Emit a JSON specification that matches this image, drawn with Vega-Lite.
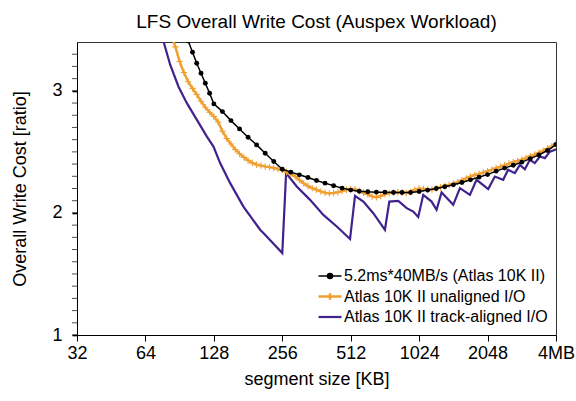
{
  "$schema": "https://vega.github.io/schema/vega-lite/v6.json",
  "width": 479,
  "height": 293,
  "autosize": {"type": "none"},
  "padding": {"left": 77, "top": 42, "right": 20, "bottom": 66},
  "title": {"text": "LFS Overall Write Cost (Auspex Workload)", "fontSize": 19, "font": "Liberation Sans", "fontWeight": "normal", "offset": 10, "anchor": "middle", "color": "#000000"},
  "config": {
    "view": {"stroke": "#333333", "strokeWidth": 1},
    "font": "Liberation Sans",
    "axis": {"grid": false, "domainColor": "#000000", "tickColor": "#000000", "labelColor": "#000000", "titleColor": "#000000", "labelFont": "Liberation Sans", "titleFont": "Liberation Sans", "titleFontWeight": "normal"}
  },
  "datasets": {
    "pts": [
      {"series": "5.2ms*40MB/s (Atlas 10K II)", "size": 94.5, "cost": 3.50},
      {"series": "5.2ms*40MB/s (Atlas 10K II)", "size": 98.7, "cost": 3.41},
      {"series": "5.2ms*40MB/s (Atlas 10K II)", "size": 103.1, "cost": 3.316},
      {"series": "5.2ms*40MB/s (Atlas 10K II)", "size": 107.6, "cost": 3.226},
      {"series": "5.2ms*40MB/s (Atlas 10K II)", "size": 112.4, "cost": 3.144},
      {"series": "5.2ms*40MB/s (Atlas 10K II)", "size": 117.4, "cost": 3.062},
      {"series": "5.2ms*40MB/s (Atlas 10K II)", "size": 122.6, "cost": 2.980},
      {"series": "5.2ms*40MB/s (Atlas 10K II)", "size": 128, "cost": 2.893},
      {"series": "5.2ms*40MB/s (Atlas 10K II)", "size": 139.6, "cost": 2.830},
      {"series": "5.2ms*40MB/s (Atlas 10K II)", "size": 152.2, "cost": 2.756},
      {"series": "5.2ms*40MB/s (Atlas 10K II)", "size": 166.0, "cost": 2.688},
      {"series": "5.2ms*40MB/s (Atlas 10K II)", "size": 181.0, "cost": 2.620},
      {"series": "5.2ms*40MB/s (Atlas 10K II)", "size": 197.4, "cost": 2.557},
      {"series": "5.2ms*40MB/s (Atlas 10K II)", "size": 215.3, "cost": 2.489},
      {"series": "5.2ms*40MB/s (Atlas 10K II)", "size": 234.8, "cost": 2.421},
      {"series": "5.2ms*40MB/s (Atlas 10K II)", "size": 256, "cost": 2.358},
      {"series": "5.2ms*40MB/s (Atlas 10K II)", "size": 279.2, "cost": 2.334},
      {"series": "5.2ms*40MB/s (Atlas 10K II)", "size": 304.4, "cost": 2.312},
      {"series": "5.2ms*40MB/s (Atlas 10K II)", "size": 332.0, "cost": 2.290},
      {"series": "5.2ms*40MB/s (Atlas 10K II)", "size": 362.0, "cost": 2.265},
      {"series": "5.2ms*40MB/s (Atlas 10K II)", "size": 394.8, "cost": 2.244},
      {"series": "5.2ms*40MB/s (Atlas 10K II)", "size": 430.5, "cost": 2.222},
      {"series": "5.2ms*40MB/s (Atlas 10K II)", "size": 469.5, "cost": 2.203},
      {"series": "5.2ms*40MB/s (Atlas 10K II)", "size": 512, "cost": 2.187},
      {"series": "5.2ms*40MB/s (Atlas 10K II)", "size": 558.3, "cost": 2.178},
      {"series": "5.2ms*40MB/s (Atlas 10K II)", "size": 608.9, "cost": 2.173},
      {"series": "5.2ms*40MB/s (Atlas 10K II)", "size": 664.0, "cost": 2.170},
      {"series": "5.2ms*40MB/s (Atlas 10K II)", "size": 724.1, "cost": 2.170},
      {"series": "5.2ms*40MB/s (Atlas 10K II)", "size": 789.7, "cost": 2.167},
      {"series": "5.2ms*40MB/s (Atlas 10K II)", "size": 861.1, "cost": 2.167},
      {"series": "5.2ms*40MB/s (Atlas 10K II)", "size": 939.1, "cost": 2.167},
      {"series": "5.2ms*40MB/s (Atlas 10K II)", "size": 1024, "cost": 2.175},
      {"series": "5.2ms*40MB/s (Atlas 10K II)", "size": 1116.7, "cost": 2.187},
      {"series": "5.2ms*40MB/s (Atlas 10K II)", "size": 1217.8, "cost": 2.200},
      {"series": "5.2ms*40MB/s (Atlas 10K II)", "size": 1328.0, "cost": 2.214},
      {"series": "5.2ms*40MB/s (Atlas 10K II)", "size": 1448.2, "cost": 2.230},
      {"series": "5.2ms*40MB/s (Atlas 10K II)", "size": 1579.2, "cost": 2.249},
      {"series": "5.2ms*40MB/s (Atlas 10K II)", "size": 1722.2, "cost": 2.271},
      {"series": "5.2ms*40MB/s (Atlas 10K II)", "size": 1878.0, "cost": 2.293},
      {"series": "5.2ms*40MB/s (Atlas 10K II)", "size": 2048, "cost": 2.314},
      {"series": "5.2ms*40MB/s (Atlas 10K II)", "size": 2233.4, "cost": 2.342},
      {"series": "5.2ms*40MB/s (Atlas 10K II)", "size": 2435.5, "cost": 2.367},
      {"series": "5.2ms*40MB/s (Atlas 10K II)", "size": 2656.0, "cost": 2.391},
      {"series": "5.2ms*40MB/s (Atlas 10K II)", "size": 2896.3, "cost": 2.416},
      {"series": "5.2ms*40MB/s (Atlas 10K II)", "size": 3158.4, "cost": 2.445},
      {"series": "5.2ms*40MB/s (Atlas 10K II)", "size": 3444.2, "cost": 2.475},
      {"series": "5.2ms*40MB/s (Atlas 10K II)", "size": 3755.9, "cost": 2.511},
      {"series": "5.2ms*40MB/s (Atlas 10K II)", "size": 4096, "cost": 2.56},

      {"series": "Atlas 10K II unaligned I/O", "size": 83.0, "cost": 3.47},
      {"series": "Atlas 10K II unaligned I/O", "size": 86.7, "cost": 3.36},
      {"series": "Atlas 10K II unaligned I/O", "size": 90.5, "cost": 3.24},
      {"series": "Atlas 10K II unaligned I/O", "size": 94.5, "cost": 3.15},
      {"series": "Atlas 10K II unaligned I/O", "size": 98.7, "cost": 3.075},
      {"series": "Atlas 10K II unaligned I/O", "size": 103.1, "cost": 3.02},
      {"series": "Atlas 10K II unaligned I/O", "size": 107.6, "cost": 2.97},
      {"series": "Atlas 10K II unaligned I/O", "size": 112.4, "cost": 2.915},
      {"series": "Atlas 10K II unaligned I/O", "size": 117.4, "cost": 2.865},
      {"series": "Atlas 10K II unaligned I/O", "size": 122.6, "cost": 2.825},
      {"series": "Atlas 10K II unaligned I/O", "size": 128, "cost": 2.79},
      {"series": "Atlas 10K II unaligned I/O", "size": 133.7, "cost": 2.745},
      {"series": "Atlas 10K II unaligned I/O", "size": 139.6, "cost": 2.67},
      {"series": "Atlas 10K II unaligned I/O", "size": 145.8, "cost": 2.61},
      {"series": "Atlas 10K II unaligned I/O", "size": 152.2, "cost": 2.565},
      {"series": "Atlas 10K II unaligned I/O", "size": 159.0, "cost": 2.52},
      {"series": "Atlas 10K II unaligned I/O", "size": 166.0, "cost": 2.485},
      {"series": "Atlas 10K II unaligned I/O", "size": 173.4, "cost": 2.455},
      {"series": "Atlas 10K II unaligned I/O", "size": 181.0, "cost": 2.43},
      {"series": "Atlas 10K II unaligned I/O", "size": 189.0, "cost": 2.41},
      {"series": "Atlas 10K II unaligned I/O", "size": 197.4, "cost": 2.395},
      {"series": "Atlas 10K II unaligned I/O", "size": 206.1, "cost": 2.388},
      {"series": "Atlas 10K II unaligned I/O", "size": 215.3, "cost": 2.38},
      {"series": "Atlas 10K II unaligned I/O", "size": 224.8, "cost": 2.375},
      {"series": "Atlas 10K II unaligned I/O", "size": 234.8, "cost": 2.368},
      {"series": "Atlas 10K II unaligned I/O", "size": 245.1, "cost": 2.36},
      {"series": "Atlas 10K II unaligned I/O", "size": 256, "cost": 2.352},
      {"series": "Atlas 10K II unaligned I/O", "size": 267.3, "cost": 2.335},
      {"series": "Atlas 10K II unaligned I/O", "size": 279.2, "cost": 2.32},
      {"series": "Atlas 10K II unaligned I/O", "size": 291.5, "cost": 2.30},
      {"series": "Atlas 10K II unaligned I/O", "size": 304.4, "cost": 2.27},
      {"series": "Atlas 10K II unaligned I/O", "size": 317.9, "cost": 2.243},
      {"series": "Atlas 10K II unaligned I/O", "size": 332.0, "cost": 2.22},
      {"series": "Atlas 10K II unaligned I/O", "size": 346.7, "cost": 2.203},
      {"series": "Atlas 10K II unaligned I/O", "size": 362.0, "cost": 2.19},
      {"series": "Atlas 10K II unaligned I/O", "size": 378.1, "cost": 2.175},
      {"series": "Atlas 10K II unaligned I/O", "size": 394.8, "cost": 2.165},
      {"series": "Atlas 10K II unaligned I/O", "size": 412.3, "cost": 2.16},
      {"series": "Atlas 10K II unaligned I/O", "size": 430.5, "cost": 2.163},
      {"series": "Atlas 10K II unaligned I/O", "size": 449.6, "cost": 2.17},
      {"series": "Atlas 10K II unaligned I/O", "size": 469.5, "cost": 2.18},
      {"series": "Atlas 10K II unaligned I/O", "size": 490.3, "cost": 2.19},
      {"series": "Atlas 10K II unaligned I/O", "size": 512, "cost": 2.196},
      {"series": "Atlas 10K II unaligned I/O", "size": 534.7, "cost": 2.193},
      {"series": "Atlas 10K II unaligned I/O", "size": 558.3, "cost": 2.18},
      {"series": "Atlas 10K II unaligned I/O", "size": 583.1, "cost": 2.165},
      {"series": "Atlas 10K II unaligned I/O", "size": 608.9, "cost": 2.152},
      {"series": "Atlas 10K II unaligned I/O", "size": 635.9, "cost": 2.135},
      {"series": "Atlas 10K II unaligned I/O", "size": 664.0, "cost": 2.128},
      {"series": "Atlas 10K II unaligned I/O", "size": 693.4, "cost": 2.138},
      {"series": "Atlas 10K II unaligned I/O", "size": 724.1, "cost": 2.152},
      {"series": "Atlas 10K II unaligned I/O", "size": 756.2, "cost": 2.162},
      {"series": "Atlas 10K II unaligned I/O", "size": 789.7, "cost": 2.168},
      {"series": "Atlas 10K II unaligned I/O", "size": 824.6, "cost": 2.17},
      {"series": "Atlas 10K II unaligned I/O", "size": 861.1, "cost": 2.168},
      {"series": "Atlas 10K II unaligned I/O", "size": 899.3, "cost": 2.163},
      {"series": "Atlas 10K II unaligned I/O", "size": 939.1, "cost": 2.172},
      {"series": "Atlas 10K II unaligned I/O", "size": 980.6, "cost": 2.19},
      {"series": "Atlas 10K II unaligned I/O", "size": 1024, "cost": 2.2},
      {"series": "Atlas 10K II unaligned I/O", "size": 1069.4, "cost": 2.198},
      {"series": "Atlas 10K II unaligned I/O", "size": 1116.7, "cost": 2.19},
      {"series": "Atlas 10K II unaligned I/O", "size": 1166.2, "cost": 2.192},
      {"series": "Atlas 10K II unaligned I/O", "size": 1217.8, "cost": 2.2},
      {"series": "Atlas 10K II unaligned I/O", "size": 1271.7, "cost": 2.21},
      {"series": "Atlas 10K II unaligned I/O", "size": 1328.0, "cost": 2.22},
      {"series": "Atlas 10K II unaligned I/O", "size": 1386.8, "cost": 2.228},
      {"series": "Atlas 10K II unaligned I/O", "size": 1448.2, "cost": 2.24},
      {"series": "Atlas 10K II unaligned I/O", "size": 1512.3, "cost": 2.252},
      {"series": "Atlas 10K II unaligned I/O", "size": 1579.2, "cost": 2.268},
      {"series": "Atlas 10K II unaligned I/O", "size": 1649.1, "cost": 2.283},
      {"series": "Atlas 10K II unaligned I/O", "size": 1722.2, "cost": 2.298},
      {"series": "Atlas 10K II unaligned I/O", "size": 1798.4, "cost": 2.31},
      {"series": "Atlas 10K II unaligned I/O", "size": 1878.0, "cost": 2.32},
      {"series": "Atlas 10K II unaligned I/O", "size": 1961.2, "cost": 2.331},
      {"series": "Atlas 10K II unaligned I/O", "size": 2048, "cost": 2.342},
      {"series": "Atlas 10K II unaligned I/O", "size": 2138.7, "cost": 2.355},
      {"series": "Atlas 10K II unaligned I/O", "size": 2233.4, "cost": 2.367},
      {"series": "Atlas 10K II unaligned I/O", "size": 2332.3, "cost": 2.378},
      {"series": "Atlas 10K II unaligned I/O", "size": 2435.5, "cost": 2.39},
      {"series": "Atlas 10K II unaligned I/O", "size": 2543.3, "cost": 2.404},
      {"series": "Atlas 10K II unaligned I/O", "size": 2656.0, "cost": 2.416},
      {"series": "Atlas 10K II unaligned I/O", "size": 2773.5, "cost": 2.426},
      {"series": "Atlas 10K II unaligned I/O", "size": 2896.3, "cost": 2.437},
      {"series": "Atlas 10K II unaligned I/O", "size": 3024.5, "cost": 2.45},
      {"series": "Atlas 10K II unaligned I/O", "size": 3158.4, "cost": 2.464},
      {"series": "Atlas 10K II unaligned I/O", "size": 3298.2, "cost": 2.478},
      {"series": "Atlas 10K II unaligned I/O", "size": 3444.2, "cost": 2.493},
      {"series": "Atlas 10K II unaligned I/O", "size": 3596.7, "cost": 2.51},
      {"series": "Atlas 10K II unaligned I/O", "size": 3755.9, "cost": 2.527},
      {"series": "Atlas 10K II unaligned I/O", "size": 3922.2, "cost": 2.545},
      {"series": "Atlas 10K II unaligned I/O", "size": 4096, "cost": 2.568},

      {"series": "Atlas 10K II track-aligned I/O", "size": 73.5, "cost": 3.53},
      {"series": "Atlas 10K II track-aligned I/O", "size": 76.9, "cost": 3.403},
      {"series": "Atlas 10K II track-aligned I/O", "size": 82.3, "cost": 3.212},
      {"series": "Atlas 10K II track-aligned I/O", "size": 89.5, "cost": 3.034},
      {"series": "Atlas 10K II track-aligned I/O", "size": 97.4, "cost": 2.899},
      {"series": "Atlas 10K II track-aligned I/O", "size": 107.8, "cost": 2.762},
      {"series": "Atlas 10K II track-aligned I/O", "size": 119.3, "cost": 2.625},
      {"series": "Atlas 10K II track-aligned I/O", "size": 127.5, "cost": 2.543},
      {"series": "Atlas 10K II track-aligned I/O", "size": 136.4, "cost": 2.408},
      {"series": "Atlas 10K II track-aligned I/O", "size": 151.0, "cost": 2.244},
      {"series": "Atlas 10K II track-aligned I/O", "size": 172.7, "cost": 2.052},
      {"series": "Atlas 10K II track-aligned I/O", "size": 184.8, "cost": 1.976},
      {"series": "Atlas 10K II track-aligned I/O", "size": 204.5, "cost": 1.862},
      {"series": "Atlas 10K II track-aligned I/O", "size": 211.4, "cost": 1.835},
      {"series": "Atlas 10K II track-aligned I/O", "size": 256, "cost": 1.671},
      {"series": "Atlas 10K II track-aligned I/O", "size": 266.1, "cost": 2.326},
      {"series": "Atlas 10K II track-aligned I/O", "size": 296.4, "cost": 2.216},
      {"series": "Atlas 10K II track-aligned I/O", "size": 339.2, "cost": 2.107},
      {"series": "Atlas 10K II track-aligned I/O", "size": 388, "cost": 1.984},
      {"series": "Atlas 10K II track-aligned I/O", "size": 444.5, "cost": 1.889},
      {"series": "Atlas 10K II track-aligned I/O", "size": 508.5, "cost": 1.786},
      {"series": "Atlas 10K II track-aligned I/O", "size": 534.8, "cost": 2.140},
      {"series": "Atlas 10K II track-aligned I/O", "size": 581.7, "cost": 2.093},
      {"series": "Atlas 10K II track-aligned I/O", "size": 643.6, "cost": 1.998},
      {"series": "Atlas 10K II track-aligned I/O", "size": 724.1, "cost": 1.862},
      {"series": "Atlas 10K II track-aligned I/O", "size": 757, "cost": 2.093},
      {"series": "Atlas 10K II track-aligned I/O", "size": 829, "cost": 2.099},
      {"series": "Atlas 10K II track-aligned I/O", "size": 902.7, "cost": 2.039},
      {"series": "Atlas 10K II track-aligned I/O", "size": 964.8, "cost": 2.011},
      {"series": "Atlas 10K II track-aligned I/O", "size": 1014.8, "cost": 1.966},
      {"series": "Atlas 10K II track-aligned I/O", "size": 1067.5, "cost": 2.148},
      {"series": "Atlas 10K II track-aligned I/O", "size": 1161.8, "cost": 2.093},
      {"series": "Atlas 10K II track-aligned I/O", "size": 1221.8, "cost": 2.025},
      {"series": "Atlas 10K II track-aligned I/O", "size": 1285.2, "cost": 2.167},
      {"series": "Atlas 10K II track-aligned I/O", "size": 1446.2, "cost": 2.066},
      {"series": "Atlas 10K II track-aligned I/O", "size": 1547.8, "cost": 2.203},
      {"series": "Atlas 10K II track-aligned I/O", "size": 1712.6, "cost": 2.148},
      {"series": "Atlas 10K II track-aligned I/O", "size": 1831.6, "cost": 2.271},
      {"series": "Atlas 10K II track-aligned I/O", "size": 2060.9, "cost": 2.195},
      {"series": "Atlas 10K II track-aligned I/O", "size": 2204.3, "cost": 2.298},
      {"series": "Atlas 10K II track-aligned I/O", "size": 2398.8, "cost": 2.271},
      {"series": "Atlas 10K II track-aligned I/O", "size": 2521.3, "cost": 2.353},
      {"series": "Atlas 10K II track-aligned I/O", "size": 2698.6, "cost": 2.326},
      {"series": "Atlas 10K II track-aligned I/O", "size": 2840.6, "cost": 2.394},
      {"series": "Atlas 10K II track-aligned I/O", "size": 2988.2, "cost": 2.358},
      {"series": "Atlas 10K II track-aligned I/O", "size": 3143.3, "cost": 2.435},
      {"series": "Atlas 10K II track-aligned I/O", "size": 3304, "cost": 2.408},
      {"series": "Atlas 10K II track-aligned I/O", "size": 3478.5, "cost": 2.462},
      {"series": "Atlas 10K II track-aligned I/O", "size": 3658.6, "cost": 2.449},
      {"series": "Atlas 10K II track-aligned I/O", "size": 3848.6, "cost": 2.502},
      {"series": "Atlas 10K II track-aligned I/O", "size": 3981.3, "cost": 2.511},
      {"series": "Atlas 10K II track-aligned I/O", "size": 4096, "cost": 2.522}
    ],
    "yticks": [
      {"v": 1}, {"v": 1.1}, {"v": 1.2}, {"v": 1.3}, {"v": 1.4}, {"v": 1.5}, {"v": 1.6}, {"v": 1.7}, {"v": 1.8}, {"v": 1.9},
      {"v": 2}, {"v": 2.1}, {"v": 2.2}, {"v": 2.3}, {"v": 2.4}, {"v": 2.5}, {"v": 2.6}, {"v": 2.7}, {"v": 2.8}, {"v": 2.9},
      {"v": 3}, {"v": 3.1}, {"v": 3.2}, {"v": 3.3}
    ]
  },
  "data": {"name": "pts"},
  "encoding": {
    "x": {
      "field": "size", "type": "quantitative",
      "scale": {"type": "log", "base": 2, "domain": [32, 4096], "nice": false},
      "axis": {"values": [32, 64, 128, 256, 512, 1024, 2048, 4096], "format": "d", "labelExpr": "datum.value == 4096 ? '4MB' : datum.label", "title": "segment size [KB]", "labelFontSize": 18, "titleFontSize": 18, "tickSize": 6, "labelPadding": 3, "titlePadding": 8, "labelFlush": false, "labelOverlap": false}
    },
    "y": {
      "field": "cost", "type": "quantitative",
      "scale": {"domain": [1, 3.4], "nice": false, "zero": false},
      "axis": {"values": [1, 2, 3], "title": "Overall Write Cost [ratio]", "labelFontSize": 18, "titleFontSize": 18, "tickSize": 5, "tickWidth": 1.6, "labelPadding": 10, "titlePadding": 22, "labelOverlap": false}
    }
  },
  "layer": [
    {
      "data": {"name": "yticks"},
      "mark": {"type": "tick", "orient": "horizontal", "color": "#000000", "thickness": 1, "size": 5, "xOffset": -2.5, "clip": false},
      "encoding": {
        "y": {"field": "v", "type": "quantitative"},
        "x": {"value": 0}
      }
    },
    {
      "transform": [{"filter": "datum.series === 'Atlas 10K II track-aligned I/O'"}],
      "mark": {"type": "line", "clip": true, "strokeWidth": 2.2},
      "encoding": {
        "color": {
          "field": "series", "type": "nominal",
          "scale": {"domain": ["5.2ms*40MB/s (Atlas 10K II)", "Atlas 10K II unaligned I/O", "Atlas 10K II track-aligned I/O"], "range": ["#000000", "#F0A033", "#40228E"]},
          "legend": {
            "title": null, "orient": "none", "legendX": 245, "legendY": 226,
            "labelFont": "Liberation Sans", "labelFontSize": 16, "labelColor": "#000000", "labelLimit": 0,
            "symbolSize": 400, "symbolStrokeWidth": 2, "rowPadding": 3.5, "labelOffset": 6, "padding": 0,
            "encode": {"symbols": {"update": {
              "shape": {"signal": "datum.value === '5.2ms*40MB/s (Atlas 10K II)' ? 'M-1.15,0H1.15M0.25,0A0.25,0.25,0,1,1,-0.25,0A0.25,0.25,0,1,1,0.25,0Z' : (datum.value === 'Atlas 10K II unaligned I/O' ? 'M-1.15,0H1.15M0,-0.32V0.32' : 'M-1.15,0H1.15')"},
              "fill": {"signal": "datum.value === '5.2ms*40MB/s (Atlas 10K II)' ? '#000000' : 'transparent'"},
              "strokeWidth": {"signal": "datum.value === '5.2ms*40MB/s (Atlas 10K II)' ? 1.5 : (datum.value === 'Atlas 10K II unaligned I/O' ? 2.5 : 2.2)"},
              "opacity": {"value": 1}
            }}}
          }
        }
      }
    },
    {
      "transform": [{"filter": "datum.series === 'Atlas 10K II unaligned I/O'"}],
      "mark": {"type": "line", "clip": true, "strokeWidth": 2.5},
      "encoding": {"color": {"field": "series", "type": "nominal"}}
    },
    {
      "transform": [{"filter": "datum.series === 'Atlas 10K II unaligned I/O'"}],
      "mark": {"type": "point", "clip": true, "shape": "M-1,0H1M0,-1V1", "size": 42, "filled": false, "stroke": "#F0A033", "strokeWidth": 1.1, "opacity": 1}
    },
    {
      "transform": [{"filter": "datum.series === '5.2ms*40MB/s (Atlas 10K II)'"}],
      "mark": {"type": "line", "clip": true, "strokeWidth": 1.5},
      "encoding": {"color": {"field": "series", "type": "nominal"}}
    },
    {
      "transform": [{"filter": "datum.series === '5.2ms*40MB/s (Atlas 10K II)'"}],
      "mark": {"type": "point", "clip": true, "shape": "circle", "size": 24, "filled": true, "color": "#000000", "opacity": 1}
    }
  ]
}
